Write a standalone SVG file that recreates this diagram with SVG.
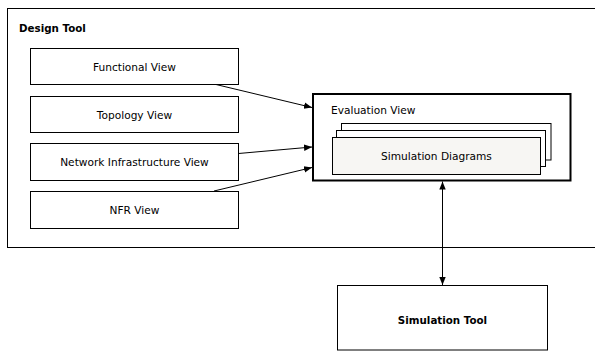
<svg xmlns="http://www.w3.org/2000/svg" width="595" height="352" viewBox="0 0 595 352">
<style>
text{font-family:"DejaVu Sans",Verdana,sans-serif;font-size:10.6px;fill:#000}
.b{font-weight:bold;font-size:10.3px}
.box{fill:#fff;stroke:#000;stroke-width:1}
.c{stroke:#000;stroke-width:1;fill:none}
</style>
<defs>
<marker id="ah" viewBox="0 0 10 10" refX="10" refY="5" markerWidth="8" markerHeight="8" markerUnits="userSpaceOnUse" orient="auto-start-reverse">
<path d="M0,1 L10,5 L0,9 Z" fill="#000"/>
</marker>
</defs>
<g id="design-tool">
<rect x="7.5" y="8.5" width="590" height="239" fill="#fff" stroke="#000"/>
<text x="19" y="32" class="b">Design Tool</text>
</g>
<g id="functional-view">
<rect class="box" x="30.5" y="48.5" width="208" height="36"/>
<text x="134.5" y="70.5" text-anchor="middle">Functional View</text>
</g>
<g id="topology-view">
<rect class="box" x="30.5" y="96.5" width="208" height="36"/>
<text x="134.5" y="118.5" text-anchor="middle">Topology View</text>
</g>
<g id="network-infrastructure-view">
<rect class="box" x="30.5" y="143.5" width="208" height="37"/>
<text x="134.5" y="166" text-anchor="middle">Network Infrastructure View</text>
</g>
<g id="nfr-view">
<rect class="box" x="30.5" y="191.5" width="208" height="37"/>
<text x="134.5" y="214" text-anchor="middle">NFR View</text>
</g>
<g id="evaluation-view">
<rect x="313" y="94" width="257.5" height="86.5" fill="#fff" stroke="#000" stroke-width="2"/>
<text x="331" y="113.5">Evaluation View</text>
</g>
<g id="simulation-diagrams">
<rect class="box" x="341.5" y="123.5" width="209.5" height="36.5"/>
<rect class="box" x="336.5" y="130.5" width="209" height="36"/>
<rect x="332.5" y="137.5" width="208" height="37" fill="#f7f6f3" stroke="#000"/>
<text x="436.5" y="159.5" text-anchor="middle">Simulation Diagrams</text>
</g>
<g id="simulation-tool">
<rect class="box" x="337.5" y="285.5" width="210" height="64.5"/>
<text x="442.5" y="324" text-anchor="middle" class="b">Simulation Tool</text>
</g>
<g id="connectors">
<line class="c" x1="216" y1="84.5" x2="312" y2="107.5" marker-end="url(#ah)"/>
<line class="c" x1="238.5" y1="153.5" x2="312" y2="147" marker-end="url(#ah)"/>
<line class="c" x1="214" y1="191" x2="312" y2="167.5" marker-end="url(#ah)"/>
<line class="c" x1="442.5" y1="181.5" x2="442.5" y2="285" marker-start="url(#ah)" marker-end="url(#ah)"/>
</g>
</svg>
